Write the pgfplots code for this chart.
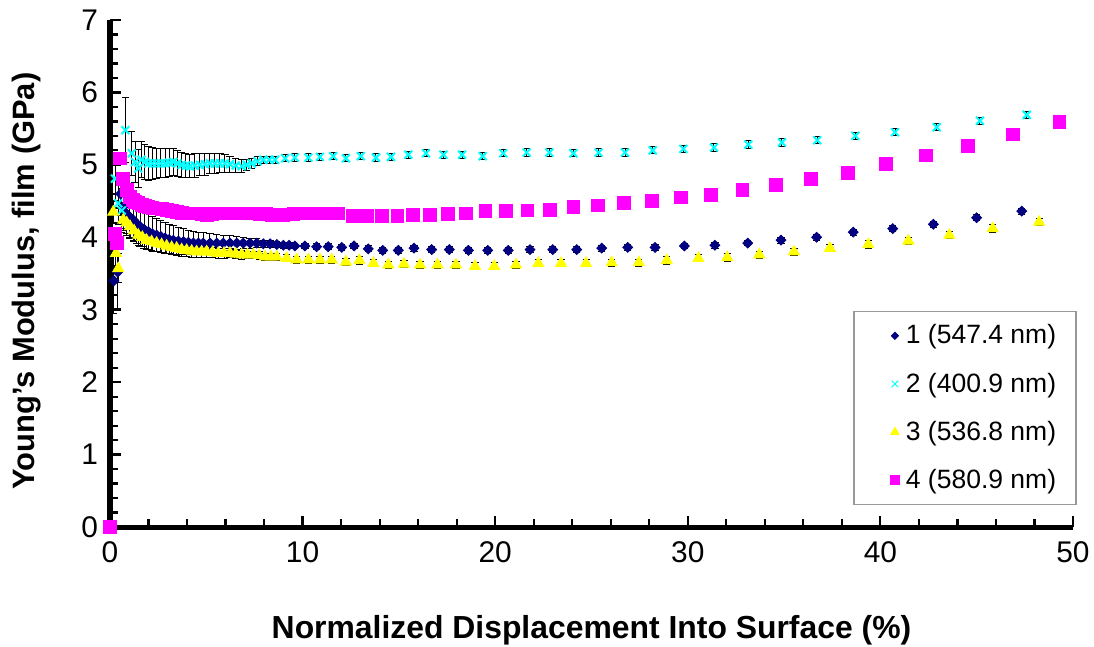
\documentclass[border=0pt]{standalone}
\usepackage{fontspec}
\setmainfont{Liberation Sans}
\usepackage{pgfplots}
\usepackage{pgfplotstable}
\pgfplotsset{compat=1.18}
\definecolor{sNavy}{RGB}{0,0,128}
\definecolor{sCyan}{RGB}{0,255,255}
\definecolor{sYellow}{RGB}{255,255,0}
\definecolor{sMag}{RGB}{255,0,255}

\pgfplotstableread{
x y ey
0.20 3.40 0.45
0.40 3.52 0.50
0.55 4.60 0.30
0.69 4.42 0.30
0.85 4.33 0.30
1.03 4.28 0.30
1.21 4.24 0.30
1.38 4.19 0.28
1.56 4.15 0.28
1.77 4.11 0.26
1.99 4.08 0.25
2.20 4.05 0.24
2.42 4.03 0.23
2.64 4.01 0.22
2.86 3.99 0.21
3.07 3.97 0.20
3.29 3.96 0.20
3.55 3.95 0.19
3.81 3.94 0.18
4.07 3.93 0.17
4.33 3.92 0.16
4.59 3.92 0.15
4.84 3.92 0.14
5.19 3.92 0.13
5.54 3.92 0.12
5.88 3.92 0.11
6.23 3.92 0.10
6.58 3.92 0.09
6.92 3.92 0.08
7.27 3.92 0.07
7.62 3.92 0.06
7.96 3.91 0.05
8.31 3.91 0.05
8.66 3.90 0.04
9.00 3.89 0.04
9.30 3.89 0.04
9.60 3.88 0.04
10.12 3.88 0.04
10.73 3.87 0.04
11.33 3.87 0.04
12.03 3.86 0.04
12.67 3.88 0.04
13.41 3.84 0.04
14.16 3.82 0.04
14.97 3.82 0.04
15.78 3.85 0.04
16.70 3.83 0.04
17.62 3.83 0.04
18.61 3.82 0.04
19.61 3.82 0.04
20.68 3.82 0.04
21.81 3.83 0.04
22.99 3.83 0.04
24.23 3.83 0.04
25.53 3.85 0.04
26.88 3.86 0.04
28.30 3.86 0.04
29.82 3.88 0.04
31.41 3.89 0.04
33.11 3.92 0.04
34.84 3.96 0.04
36.69 4.00 0.04
38.59 4.07 0.04
40.64 4.12 0.04
42.75 4.18 0.04
45.00 4.27 0.04
47.34 4.36 0.04
}\seriesA

\pgfplotstableread{
x y ey
0.26 4.81 0.30
0.43 4.47 0.30
0.61 4.37 0.30
0.80 5.48 0.45
1.13 5.16 0.30
1.30 5.04 0.28
1.47 4.95 0.26
1.64 5.07 0.25
1.81 5.04 0.24
1.99 5.02 0.23
2.20 5.02 0.22
2.42 5.02 0.21
2.64 5.02 0.20
2.86 5.02 0.20
3.07 5.03 0.19
3.29 5.04 0.18
3.50 5.02 0.18
3.72 5.00 0.17
3.94 4.99 0.17
4.15 4.98 0.16
4.41 4.99 0.16
4.67 5.00 0.15
4.93 5.01 0.15
5.19 5.02 0.14
5.45 5.02 0.14
5.71 5.02 0.13
5.97 5.02 0.12
6.23 5.01 0.11
6.53 4.99 0.10
6.84 4.98 0.09
7.10 5.00 0.08
7.36 5.02 0.07
7.66 5.05 0.06
7.96 5.07 0.05
8.27 5.07 0.05
8.57 5.07 0.05
9.09 5.09 0.05
9.60 5.10 0.05
10.30 5.10 0.05
10.90 5.11 0.05
11.59 5.12 0.05
12.25 5.09 0.05
13.02 5.12 0.05
13.81 5.10 0.05
14.59 5.11 0.05
15.49 5.14 0.05
16.41 5.16 0.05
17.31 5.14 0.05
18.28 5.14 0.05
19.35 5.12 0.05
20.42 5.16 0.05
21.64 5.17 0.05
22.81 5.17 0.05
24.06 5.16 0.05
25.37 5.17 0.05
26.74 5.17 0.05
28.18 5.20 0.05
29.77 5.22 0.05
31.36 5.24 0.05
33.14 5.28 0.05
34.89 5.31 0.05
36.72 5.34 0.05
38.70 5.40 0.05
40.76 5.45 0.05
42.92 5.52 0.05
45.17 5.61 0.05
47.60 5.69 0.05
}\seriesB

\pgfplotstableread{
x y ey
0.17 4.35 0.15
0.31 3.78 0.20
0.43 3.57 0.20
0.69 4.24 0.15
0.87 4.20 0.15
1.04 4.15 0.15
1.25 4.09 0.14
1.47 4.03 0.14
1.68 4.00 0.13
1.90 3.96 0.13
2.16 3.94 0.12
2.42 3.92 0.12
2.68 3.90 0.11
2.94 3.88 0.11
3.20 3.86 0.10
3.46 3.85 0.10
3.72 3.83 0.10
3.98 3.82 0.09
4.24 3.81 0.09
4.50 3.80 0.08
4.76 3.80 0.08
5.02 3.80 0.08
5.32 3.79 0.07
5.62 3.78 0.07
5.92 3.78 0.07
6.23 3.78 0.06
6.53 3.77 0.06
6.84 3.76 0.06
7.14 3.76 0.05
7.44 3.76 0.05
7.75 3.75 0.05
8.05 3.73 0.05
8.36 3.73 0.05
8.66 3.73 0.05
9.17 3.71 0.05
9.69 3.69 0.05
10.30 3.69 0.05
10.90 3.69 0.05
11.51 3.69 0.05
12.25 3.66 0.05
12.95 3.68 0.05
13.68 3.64 0.05
14.45 3.62 0.05
15.26 3.63 0.05
16.10 3.62 0.05
17.00 3.62 0.05
17.96 3.62 0.05
18.95 3.60 0.05
19.95 3.60 0.05
21.08 3.62 0.05
22.24 3.64 0.05
23.42 3.64 0.05
24.72 3.64 0.05
26.05 3.65 0.05
27.46 3.65 0.05
28.91 3.68 0.05
30.55 3.71 0.05
32.05 3.72 0.05
33.71 3.76 0.05
35.51 3.80 0.05
37.38 3.85 0.05
39.37 3.90 0.05
41.45 3.95 0.05
43.58 4.03 0.05
45.83 4.12 0.05
48.24 4.21 0.05
}\seriesC

\pgfplotstableread{
x y
0 0
0.26 4.05
0.35 3.92
0.52 5.09
0.69 4.81
0.87 4.65
1.04 4.56
1.17 4.52
1.30 4.49
1.47 4.47
1.64 4.45
1.81 4.43
1.99 4.42
2.20 4.41
2.42 4.40
2.68 4.39
2.94 4.38
3.20 4.36
3.46 4.35
3.72 4.34
3.98 4.33
4.24 4.33
4.50 4.33
4.76 4.32
5.02 4.31
5.28 4.32
5.54 4.33
5.80 4.33
6.06 4.33
6.32 4.33
6.58 4.33
6.88 4.33
7.18 4.33
7.48 4.33
7.79 4.32
8.09 4.32
8.39 4.31
8.70 4.31
9.00 4.31
9.52 4.32
10.04 4.33
10.64 4.33
11.25 4.33
11.85 4.33
12.60 4.30
13.33 4.29
14.11 4.30
14.92 4.30
15.71 4.31
16.61 4.31
17.53 4.32
18.47 4.33
19.49 4.36
20.56 4.36
21.67 4.37
22.85 4.38
24.06 4.42
25.34 4.44
26.70 4.47
28.14 4.50
29.63 4.55
31.19 4.58
32.83 4.65
34.58 4.72
36.38 4.81
38.30 4.89
40.29 5.01
42.38 5.13
44.56 5.26
46.90 5.42
49.29 5.59
}\seriesD

\begin{document}
\begin{tikzpicture}
\path[use as bounding box] (-55bp,-60bp) rectangle (492bp,263.5bp);
\begin{axis}[
  at={(0,0)}, anchor=south west,
  scale only axis, width=481.5bp, height=253.5bp,
  xmin=0, xmax=50, ymin=0, ymax=7,
  axis lines=left,
  axis line style={-, black, line width=2.5bp},
  xtick={0,10,20,30,40,50}, ytick={0,1,2,3,4,5,6,7},
  minor x tick num=4, minor y tick num=4,
  tick align=inside,
  major tick length=5.5bp, minor tick length=4bp,
  every tick/.style={black, line width=1.1bp},
  /pgf/number format/assume math mode=true,
  ticklabel style={font=\fontsize{15}{18}\selectfont},
  xticklabel style={yshift=-4bp},
  yticklabel style={xshift=-2.5bp},
  xlabel={Normalized Displacement Into Surface (\%)},
  ylabel={Young's Modulus, film (GPa)},
  xlabel style={font=\bfseries\fontsize{16}{19}\selectfont, at={(axis description cs:0.5,-0.203)}, anchor=center},
  ylabel style={font=\bfseries\fontsize{15.5}{19}\selectfont, at={(axis description cs:-0.0862,0.485)}, anchor=center},
  clip=false,
  legend cell align=left,
  legend image code/.code={\draw[#1, mark size=2.3bp, line width=0.5bp] plot coordinates {(0bp,0bp)}; \path (-12bp,0bp) (3bp,0bp);},
  legend style={at={(axis description cs:1.004,0.426)}, anchor=north east,
    draw=gray!80, line width=0.7bp, font=\fontsize{13.3}{16}\selectfont,
    row sep=9bp, inner xsep=8bp, inner ysep=4.5bp},
  error bars/y dir=both, error bars/y explicit,
  error bars/error bar style={black, line width=0.5bp},
  error bars/error mark options={black, rotate=90, mark size=1.8bp, line width=0.5bp},
]
\addplot[only marks, mark=diamond*, mark size=3.3bp, mark options={yscale=0.75}, draw=sNavy, fill=sNavy]
  table[x=x, y=y, y error=ey]{\seriesA};
\addlegendentry{1 (547.4 nm)\hspace{8bp}}
\addplot[only marks, mark=x, mark size=2.8bp, draw=sCyan, line width=1bp]
  table[x=x, y=y, y error=ey]{\seriesB};
\addlegendentry{2 (400.9 nm)\hspace{8bp}}
\addplot[only marks, mark=triangle*, mark size=3.2bp, draw=sYellow, fill=sYellow]
  table[x=x, y=y, y error=ey]{\seriesC};
\addlegendentry{3 (536.8 nm)\hspace{8bp}}
\addplot[only marks, mark=square*, mark size=3.2bp, draw=sMag, fill=sMag, error bars/y dir=none]
  table[x=x, y=y]{\seriesD};
\addlegendentry{4 (580.9 nm)\hspace{8bp}}
\end{axis}
\end{tikzpicture}
\end{document}
